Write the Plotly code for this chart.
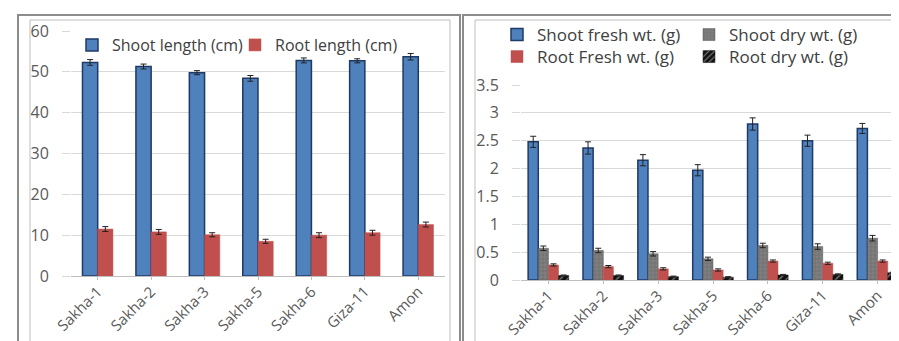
import plotly.graph_objects as go

W, H = 899, 341

categories = ["Sakha-1", "Sakha-2", "Sakha-3", "Sakha-5", "Sakha-6", "Giza-11", "Amon"]

shoot_length = [52.3, 51.3, 49.8, 48.4, 52.8, 52.7, 53.7]
shoot_length_err = [0.7, 0.6, 0.5, 0.7, 0.6, 0.5, 0.8]
root_length = [11.5, 10.8, 10.1, 8.5, 10.0, 10.6, 12.6]
root_length_err = [0.6, 0.6, 0.5, 0.5, 0.6, 0.6, 0.6]

shoot_fresh = [2.48, 2.37, 2.15, 1.97, 2.80, 2.50, 2.72]
shoot_fresh_err = [0.10, 0.11, 0.10, 0.10, 0.11, 0.10, 0.09]
shoot_dry = [0.57, 0.53, 0.47, 0.38, 0.62, 0.60, 0.75]
shoot_dry_err = [0.04, 0.04, 0.04, 0.03, 0.04, 0.05, 0.05]
root_fresh = [0.27, 0.24, 0.20, 0.18, 0.34, 0.30, 0.34]
root_fresh_err = [0.02, 0.02, 0.02, 0.02, 0.02, 0.02, 0.02]
root_dry = [0.08, 0.08, 0.06, 0.05, 0.09, 0.10, 0.13]
root_dry_err = [0.01, 0.01, 0.01, 0.01, 0.01, 0.01, 0.01]

left_ticks = [0, 10, 20, 30, 40, 50, 60]
right_ticks = [0, 0.5, 1, 1.5, 2, 2.5, 3, 3.5]
right_tick_text = ["0", "0.5", "1", "1.5", "2", "2.5", "3", "3.5"]

BLUE = "#4F81BD"
BLUE_EDGE = "#1F3A66"
RED = "#C0504D"
GRAY = "#7F7F7F"
FONT = "Open Sans"
TXT = "#404040"

RW = 0.185  # bar width (category units) in the right panel


def px_x(p):
    return p / W


def px_y(p):
    return 1 - p / H


def err(vals):
    return dict(type="data", array=vals, visible=True, color="#222222", thickness=1, width=3)


fig = go.Figure()

fig.add_trace(go.Bar(x=categories, y=shoot_length, name="Shoot length (cm)",
                     marker=dict(color=BLUE, line=dict(color=BLUE_EDGE, width=1.5)),
                     error_y=err(shoot_length_err), xaxis="x", yaxis="y", legend="legend"))
fig.add_trace(go.Bar(x=categories, y=root_length, name="Root length (cm)",
                     marker=dict(color=RED, line=dict(color=RED, width=0.5)),
                     error_y=err(root_length_err), xaxis="x", yaxis="y", legend="legend"))

fig.add_trace(go.Bar(x=categories, y=shoot_fresh, name="Shoot fresh wt. (g)",
                     width=RW, offset=-2 * RW,
                     marker=dict(color=BLUE, line=dict(color=BLUE_EDGE, width=1.5)),
                     error_y=err(shoot_fresh_err), xaxis="x2", yaxis="y2", legend="legend2"))
fig.add_trace(go.Bar(x=categories, y=shoot_dry, name="Shoot dry wt. (g)",
                     width=RW, offset=-RW,
                     marker=dict(color=GRAY, line=dict(color="#555555", width=0.5),
                                 pattern=dict(shape="+", fgcolor="#5a5a5a", bgcolor=GRAY, size=4, solidity=0.3)),
                     error_y=err(shoot_dry_err), xaxis="x2", yaxis="y2", legend="legend2"))
fig.add_trace(go.Bar(x=categories, y=root_fresh, name="Root Fresh wt. (g)",
                     width=RW, offset=0,
                     marker=dict(color=RED, line=dict(color=RED, width=0.5)),
                     error_y=err(root_fresh_err), xaxis="x2", yaxis="y2", legend="legend3"))
fig.add_trace(go.Bar(x=categories, y=root_dry, name="Root dry wt. (g)",
                     width=RW, offset=RW,
                     marker=dict(color="#111111", line=dict(color="#111111", width=0.5),
                                 pattern=dict(shape="/", fgcolor="#ffffff", bgcolor="#111111", size=5, solidity=0.25)),
                     error_y=err(root_dry_err), xaxis="x2", yaxis="y2", legend="legend3"))

xaxis_common = dict(showline=True, linecolor="#BFBFBF", linewidth=1, automargin=False,
                    ticklabelstandoff=-3, tickfont=dict(family=FONT, size=15, color="#595959"))
yaxis_common = dict(showline=False, automargin=False, ticklabelstandoff=10,
                    tickfont=dict(family=FONT, size=16, color="#595959"))

legend_common = dict(orientation="h", bgcolor="rgba(0,0,0,0)",
                     xanchor="left", yanchor="middle", itemwidth=30, tracegroupgap=0)

fig.update_layout(
    width=W, height=H,
    margin=dict(l=0, r=0, t=0, b=0, autoexpand=False),
    paper_bgcolor="white", plot_bgcolor="white",
    barmode="group",
    bargap=0.43, bargroupgap=0,
    showlegend=True,
    xaxis=dict(domain=[px_x(63), px_x(437)], anchor="y", tickangle=-45, ticks="outside", ticklen=3,
               tickcolor="#BFBFBF", **xaxis_common),
    yaxis=dict(domain=[px_y(268), px_y(23)], anchor="x", range=[0, 60], tickvals=left_ticks,
               showgrid=True, gridcolor="#D9D9D9", gridwidth=1, ticks="outside", ticklen=8,
               tickcolor="#D9D9D9", zeroline=False, **yaxis_common),
    xaxis2=dict(domain=[px_x(513), px_x(897)], anchor="y2", tickangle=-45, ticks="outside", ticklen=3,
                tickcolor="#BFBFBF", **xaxis_common),
    yaxis2=dict(domain=[px_y(272), px_y(77)], anchor="x2", range=[0, 3.5], tickvals=right_ticks,
                ticktext=right_tick_text, showgrid=True, gridcolor="#D9D9D9", gridwidth=1,
                ticks="outside", ticklen=8, tickcolor="#D9D9D9", zeroline=False, **yaxis_common),
    legend=dict(x=px_x(64), y=px_y(37), entrywidth=118, font=dict(family=FONT, size=16, color=TXT),
                **legend_common),
    legend2=dict(x=px_x(489), y=px_y(27), entrywidth=147, font=dict(family=FONT, size=17, color=TXT),
                 **legend_common),
    legend3=dict(x=px_x(489), y=px_y(49), entrywidth=147, font=dict(family=FONT, size=17, color=TXT),
                 **legend_common),
)

shapes = []
for (x0, x1) in [(10, 452), (455, 899)]:
    shapes.append(dict(type="rect", xref="paper", yref="paper", x0=px_x(x0), x1=px_x(x1),
                       y0=px_y(341), y1=px_y(7), line=dict(color="#8C8C8C", width=2), fillcolor="rgba(0,0,0,0)"))
for (x0, x1) in [(22, 442), (467, 897)]:
    shapes.append(dict(type="rect", xref="paper", yref="paper", x0=px_x(x0), x1=px_x(x1),
                       y0=px_y(338), y1=px_y(12), line=dict(color="#BFBFBF", width=1), fillcolor="rgba(0,0,0,0)"))
fig.update_layout(shapes=shapes)

fig.write_html("out.html")
